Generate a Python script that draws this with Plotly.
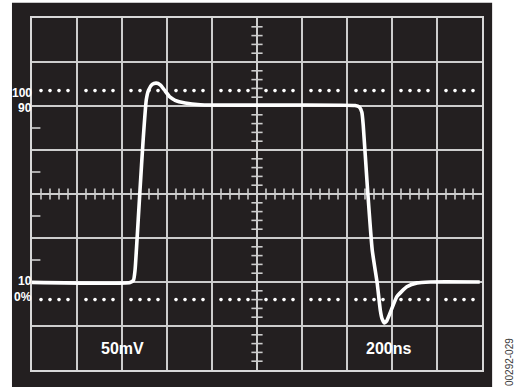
import plotly.graph_objects as go

# Scope settings: 200 ns/div horizontally, 50 mV/div vertically
NS_PER_DIV = 200
MV_PER_DIV = 50
H_DIVS = 10
V_DIVS = 8

# Captured pulse response (time in ns, amplitude in mV above the screen bottom)
time_ns = [0, 436, 451, 458, 464, 480, 494, 508, 518, 534, 552, 570, 592, 614,
           636, 680, 748, 970, 1436, 1454, 1466, 1472, 1490, 1512, 1534, 1548,
           1556, 1566, 1576, 1592, 1622, 1666, 1712, 1770, 1990]
amp_mv = [99.6, 99.5, 102, 113.5, 136.5, 204.5, 261.5, 307, 318, 324.5, 326,
          324, 317, 310, 306.5, 303.5, 301.5, 301, 300.5, 299, 293, 278.5, 210,
          136.5, 99, 68, 58, 53.5, 55.5, 65, 83.5, 94.5, 99, 100, 100]

# Dotted 0% / 100% reference lines
ref_levels_mv = [80, 317.5]

# Level labels on the left edge (text, mV)
level_labels = ["100", "90", "10", "0%"]
level_label_mv = [315, 298, 101, 83]

# Scale readouts
scale_labels = ["50mV", "200ns"]
scale_label_ns = [402, 1586]
scale_label_mv = [24.5, 24.5]

SCREEN = "#231f20"
GRID = "#cdcdcd"
TRACE = "#ffffff"

x_max = H_DIVS * NS_PER_DIV
y_max = V_DIVS * MV_PER_DIV
x_mid = x_max / 2
y_mid = y_max / 2

fig = go.Figure()

# Dotted reference levels: four dots inside each division
dot_x = [d * NS_PER_DIV + f * NS_PER_DIV for d in range(H_DIVS) for f in (0.2, 0.4, 0.6, 0.8)]
for lvl in ref_levels_mv:
    fig.add_trace(go.Scatter(
        x=dot_x, y=[lvl] * len(dot_x), mode="markers",
        marker=dict(symbol="circle", size=3.6, color="#ffffff"),
        hoverinfo="skip"))

# Fine graduations along the centre cross-hair
sub = NS_PER_DIV / 5
h_ticks = [i * sub for i in range(1, H_DIVS * 5) if i % 5]
fig.add_trace(go.Scatter(
    x=h_ticks, y=[y_mid] * len(h_ticks), mode="markers",
    marker=dict(symbol="line-ns", size=8, line=dict(width=1.6, color=GRID)),
    hoverinfo="skip"))
vsub = MV_PER_DIV / 5
v_ticks = [i * vsub for i in range(1, V_DIVS * 5) if i % 5]
fig.add_trace(go.Scatter(
    x=[x_mid] * len(v_ticks), y=v_ticks, mode="markers",
    marker=dict(symbol="line-ew", size=8, line=dict(width=1.6, color=GRID)),
    hoverinfo="skip"))

# Half-division marks on the left border
edge_ticks = [(k + 0.5) * MV_PER_DIV for k in range(2, 6)]
fig.add_trace(go.Scatter(
    x=[0] * len(edge_ticks), y=edge_ticks, mode="markers", cliponaxis=True,
    marker=dict(symbol="line-ew", size=12, line=dict(width=1.6, color=GRID)),
    hoverinfo="skip"))

# The pulse trace
fig.add_trace(go.Scatter(
    x=time_ns, y=amp_mv, mode="lines",
    line=dict(color=TRACE, width=3.6, shape="spline", smoothing=0.5),
    hoverinfo="skip"))

# Dark screen surround
fig.add_shape(type="rect", xref="paper", yref="paper",
              x0=-0.0445, x1=1.0225, y0=-0.06, y1=1.0435,
              fillcolor=SCREEN, line=dict(width=0), layer="below")

for txt, mv in zip(level_labels, level_label_mv):
    fig.add_annotation(x=7, y=mv, xref="x", yref="y", text=txt, showarrow=False,
                       xanchor="right", yanchor="middle",
                       font=dict(family="Liberation Sans, Arial", size=12,
                                 color="#ffffff", weight="bold"))

for txt, t, mv in zip(scale_labels, scale_label_ns, scale_label_mv):
    fig.add_annotation(x=t, y=mv, xref="x", yref="y", text=txt, showarrow=False,
                       xanchor="center", yanchor="middle",
                       font=dict(family="Liberation Sans, Arial", size=16,
                                 color="#ffffff", weight="bold"))

fig.add_annotation(x=1.0595, y=0.022, xref="paper", yref="paper", text="00292-029",
                   showarrow=False, textangle=-90, xanchor="center", yanchor="middle",
                   font=dict(family="Liberation Sans, Arial", size=10, color="#3a3a3a"))

axis_common = dict(showgrid=True, gridcolor=GRID, gridwidth=1.6, zeroline=False,
                   showticklabels=False, ticks="", showline=True, mirror=True,
                   linecolor="#d8d8d8", linewidth=2)

fig.update_layout(
    width=514, height=387, autosize=False,
    margin=dict(l=32, r=32, t=18, b=17),
    paper_bgcolor="#ffffff", plot_bgcolor=SCREEN,
    showlegend=False, hovermode=False,
    xaxis=dict(range=[0, x_max], dtick=NS_PER_DIV, **axis_common),
    yaxis=dict(range=[0, y_max], dtick=MV_PER_DIV, **axis_common),
)

fig.write_html("out.html", config={"displayModeBar": False})
